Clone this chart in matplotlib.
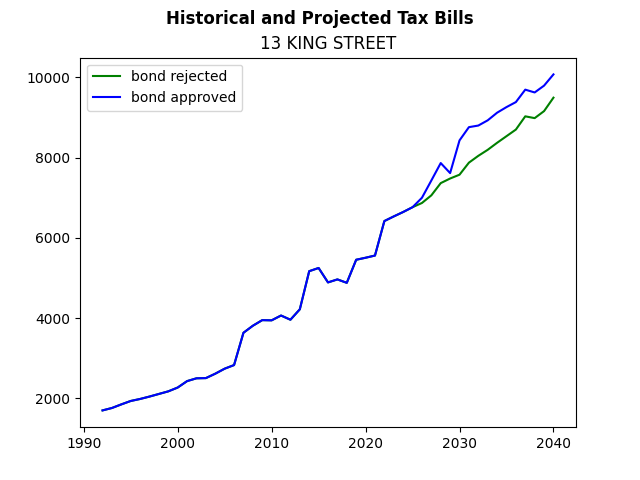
import matplotlib
matplotlib.use("Agg")
import matplotlib.pyplot as plt

# shared history, then the two projections diverge after 2025
years = list(range(1992, 2041))
history = [1700, 1760, 1850, 1935, 1985, 2045, 2110, 2175, 2270, 2430,
           2500, 2505, 2615, 2740, 2830, 3635, 3810, 3950, 3945, 4065,
           3960, 4220, 5170, 5250, 4890, 4965, 4880, 5455, 5505, 5560,
           6420, 6535, 6645, 6765]
rejected_future = [6870, 7060, 7365, 7480, 7575, 7875, 8045, 8195, 8370,
                   8535, 8700, 9030, 8985, 9160, 9495]
approved_future = [7000, 7430, 7865, 7615, 8430, 8760, 8800, 8930, 9120,
                   9260, 9385, 9695, 9625, 9795, 10075]

bond_rejected = history + rejected_future
bond_approved = history + approved_future

fig, ax = plt.subplots(figsize=(6.4, 4.8), dpi=100)
ax.plot(years, bond_rejected, color="green", label="bond rejected")
ax.plot(years, bond_approved, color="blue", label="bond approved")
ax.set_title("13 KING STREET")
fig.suptitle("Historical and Projected Tax Bills", fontweight="bold")
ax.legend(loc="upper left")

fig.savefig("out.png")
